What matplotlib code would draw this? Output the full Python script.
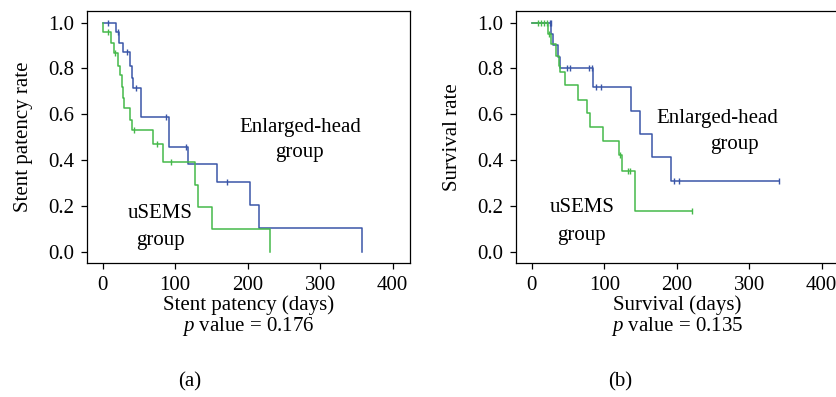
import matplotlib
matplotlib.use("Agg")
import matplotlib.pyplot as plt

plt.rcParams['font.family'] = ['Liberation Serif', 'DejaVu Serif']
plt.rcParams['mathtext.fontset'] = 'custom'
plt.rcParams['mathtext.rm'] = 'Liberation Serif'
plt.rcParams['mathtext.it'] = 'Liberation Serif:italic'

BLUE = "#3a56a8"
GREEN = "#45b94a"
FS = 15

# (a) stent patency - enlarged-head group
a_head_t = [0, 19, 22, 28, 37, 40, 42, 53, 92, 117, 158, 203, 216, 358]
a_head_s = [1.0, 0.957, 0.913, 0.870, 0.812, 0.760, 0.714, 0.590, 0.460, 0.384, 0.304, 0.205, 0.103, 0.0]
a_head_cens_t = [7, 20.5, 34, 46, 88, 115, 172]
a_head_cens_s = [1.0, 0.957, 0.870, 0.714, 0.590, 0.460, 0.304]

# (a) stent patency - uSEMS group
a_usems_t = [0, 1, 11, 15, 21, 23.5, 27, 28.5, 29.5, 37.7, 40, 70, 83, 127, 132, 151, 231]
a_usems_s = [1.0, 0.957, 0.913, 0.866, 0.812, 0.770, 0.720, 0.670, 0.627, 0.576, 0.532, 0.471, 0.391, 0.292, 0.198, 0.099, 0.0]
a_usems_cens_t = [8, 17, 43, 74.5, 94]
a_usems_cens_s = [0.957, 0.866, 0.532, 0.471, 0.391]

# (b) survival - enlarged-head group
b_head_t = [0, 27, 30, 36, 39, 85, 136.5, 149, 166, 192.5, 341]
b_head_s = [1.0, 0.949, 0.902, 0.849, 0.800, 0.720, 0.616, 0.515, 0.413, 0.311, 0.311]
b_head_cens_t = [25, 26.5, 48, 52.6, 79, 82.5, 89, 96, 195.6, 203.8, 341]
b_head_cens_s = [1.0, 1.0, 0.800, 0.800, 0.800, 0.800, 0.720, 0.720, 0.311, 0.311, 0.311]

# (b) survival - uSEMS group
b_usems_t = [0, 22, 26.5, 34, 37, 39, 46.5, 64, 76, 80, 98, 120, 124, 142, 221]
b_usems_s = [1.0, 0.950, 0.905, 0.855, 0.812, 0.785, 0.728, 0.663, 0.605, 0.546, 0.485, 0.425, 0.355, 0.180, 0.180]
b_usems_cens_t = [9, 13, 17, 20.6, 24, 122, 133, 135, 221]
b_usems_cens_s = [1.0, 1.0, 1.0, 1.0, 0.950, 0.425, 0.355, 0.355, 0.180]

x_ticks = [0, 100, 200, 300, 400]
y_ticks = [0.0, 0.2, 0.4, 0.6, 0.8, 1.0]

fig = plt.figure(figsize=(8.37, 3.97), dpi=100)
ax_a = fig.add_axes([0.1039, 0.3368, 0.3863, 0.6363])
ax_b = fig.add_axes([0.6165, 0.3368, 0.3863, 0.6363])


def dessine_km(ax, t, s, ct, cs, couleur):
    ax.step(t, s, where='post', color=couleur, linewidth=1.1)
    ax.plot(ct, cs, linestyle='none', marker='|', markersize=5,
            markeredgewidth=1.0, color=couleur)


def prepare_axe(ax, ylabel, xlabel, pval):
    ax.set_xlim(-21.7, 424.3)
    ax.set_ylim(-0.049, 1.052)
    ax.set_xticks(x_ticks)
    ax.set_yticks(y_ticks)
    ax.set_yticklabels([f"{v:.1f}" for v in y_ticks])
    ax.tick_params(direction='out', length=4, width=0.9, labelsize=FS, pad=5)
    ax.tick_params(axis='x', pad=5)
    for sp in ax.spines.values():
        sp.set_linewidth(0.9)
    ax.set_ylabel(ylabel, fontsize=FS, labelpad=11)
    ax.text(0.5, -0.165, xlabel, transform=ax.transAxes, ha='center',
            va='center', fontsize=FS)
    ax.text(0.5, -0.252, f"$p$ value = {pval}", transform=ax.transAxes,
            ha='center', va='center', fontsize=FS)


dessine_km(ax_a, a_head_t, a_head_s, a_head_cens_t, a_head_cens_s, BLUE)
dessine_km(ax_a, a_usems_t, a_usems_s, a_usems_cens_t, a_usems_cens_s, GREEN)
prepare_axe(ax_a, "Stent patency rate", "Stent patency (days)", "0.176")
ax_a.text(272, 0.545, "Enlarged-head", ha='center', va='center', fontsize=FS)
ax_a.text(272, 0.432, "group", ha='center', va='center', fontsize=FS)
ax_a.text(79, 0.170, "uSEMS", ha='center', va='center', fontsize=FS)
ax_a.text(79, 0.052, "group", ha='center', va='center', fontsize=FS)

dessine_km(ax_b, b_head_t, b_head_s, b_head_cens_t, b_head_cens_s, BLUE)
dessine_km(ax_b, b_usems_t, b_usems_s, b_usems_cens_t, b_usems_cens_s, GREEN)
prepare_axe(ax_b, "Survival rate", "Survival (days)", "0.135")
ax_b.text(256, 0.584, "Enlarged-head", ha='center', va='center', fontsize=FS)
ax_b.text(279.5, 0.467, "group", ha='center', va='center', fontsize=FS)
ax_b.text(69, 0.192, "uSEMS", ha='center', va='center', fontsize=FS)
ax_b.text(69, 0.074, "group", ha='center', va='center', fontsize=FS)

fig.text(0.227, 0.038, "(a)", ha='center', va='center', fontsize=FS)
fig.text(0.741, 0.038, "(b)", ha='center', va='center', fontsize=FS)

fig.savefig("out.png", dpi=100)
